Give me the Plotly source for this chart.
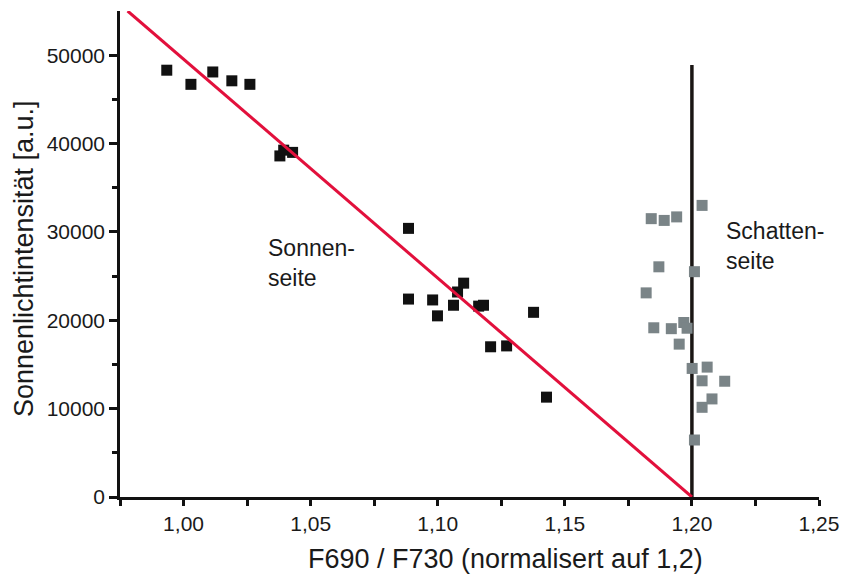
import plotly.graph_objects as go

# Sonnenseite (black squares)
sun_x = [0.9934, 1.0029, 1.0115, 1.0190, 1.0261, 1.0379, 1.0394, 1.0429,
         1.0885, 1.0885, 1.0980, 1.0999, 1.1062, 1.1078, 1.1102, 1.1161,
         1.1180, 1.1377, 1.1208, 1.1271, 1.1428]
sun_y = [48300, 46700, 48100, 47100, 46700, 38600, 39250, 39000,
         30400, 22400, 22300, 20500, 21700, 23200, 24200, 21600,
         21700, 20900, 17000, 17100, 11300]

# Schattenseite (grey squares)
shade_x = [1.1840, 1.1891, 1.1940, 1.2040, 1.1870, 1.2010, 1.1820, 1.1850,
           1.1919, 1.1968, 1.1981, 1.1950, 1.2001, 1.2060, 1.2040, 1.2129,
           1.2079, 1.2040, 1.2010]
shade_y = [31500, 31300, 31700, 33000, 26050, 25500, 23100, 19150,
           19050, 19750, 19100, 17300, 14550, 14700, 13150, 13100,
           11100, 10150, 6450]

# Regression line (red) and divider line (black)
fit_x = [0.978, 1.20]
fit_y = [55000, 0]
div_x = [1.20, 1.20]
div_y = [0, 48900]

x_ticks = [1.00, 1.05, 1.10, 1.15, 1.20, 1.25]
x_ticktext = ["1,00", "1,05", "1,10", "1,15", "1,20", "1,25"]
y_ticks = [0, 10000, 20000, 30000, 40000, 50000]
y_ticktext = ["0", "10000", "20000", "30000", "40000", "50000"]

x_title = "F690 / F730 (normalisert auf 1,2)"
y_title = "Sonnenlichtintensität [a.u.]"

FONT = "Liberation Sans, Arial, sans-serif"

fig = go.Figure()
fig.add_trace(go.Scatter(x=div_x, y=div_y, mode="lines",
                         line=dict(color="#1a1614", width=3.5),
                         showlegend=False, hoverinfo="skip", cliponaxis=False))
fig.add_trace(go.Scatter(x=sun_x, y=sun_y, mode="markers",
                         marker=dict(symbol="square", size=11, color="#111111",
                                     line=dict(width=0)),
                         showlegend=False))
fig.add_trace(go.Scatter(x=shade_x, y=shade_y, mode="markers",
                         marker=dict(symbol="square", size=11, color="#7a8487",
                                     line=dict(width=0)),
                         showlegend=False))
fig.add_trace(go.Scatter(x=fit_x, y=fit_y, mode="lines",
                         line=dict(color="#e2103c", width=3),
                         showlegend=False, hoverinfo="skip", cliponaxis=False))

fig.add_annotation(x=1.0325, y=26500, xref="x", yref="y",
                   text="Sonnen-<br>seite", showarrow=False, align="left",
                   xanchor="left", yanchor="middle",
                   font=dict(family=FONT, size=23, color="#1a1a1a"))
fig.add_annotation(x=1.2125, y=28400, xref="x", yref="y",
                   text="Schatten-<br>seite", showarrow=False, align="left",
                   xanchor="left", yanchor="middle",
                   font=dict(family=FONT, size=23, color="#1a1a1a"))

# axis titles placed as annotations (paper coords)
fig.add_annotation(x=0.551, y=-0.128, xref="paper", yref="paper",
                   text=x_title, showarrow=False, xanchor="center", yanchor="middle",
                   font=dict(family=FONT, size=27, color="#1a1a1a"))
fig.add_annotation(x=-0.137, y=0.49, xref="paper", yref="paper",
                   text=y_title, showarrow=False, textangle=-90,
                   xanchor="center", yanchor="middle",
                   font=dict(family=FONT, size=27, color="#1a1a1a"))

fig.update_layout(
    width=845, height=579,
    margin=dict(l=120, r=26, t=11, b=82, autoexpand=False),
    paper_bgcolor="white", plot_bgcolor="white",
    font=dict(family=FONT, color="#1a1a1a"),
    showlegend=False,
)
fig.update_xaxes(
    range=[0.975, 1.25], showgrid=False, zeroline=False, automargin=False,
    showline=True, linecolor="#111111", linewidth=2.5,
    tickmode="array", tickvals=x_ticks, ticktext=x_ticktext,
    ticks="outside", ticklen=6, tickwidth=2.5, tickcolor="#111111",
    minor=dict(tickmode="array", tickvals=[0.975, 1.025, 1.075, 1.125, 1.175, 1.225],
               ticks="outside", ticklen=6, tickwidth=2.5, tickcolor="#111111"),
    tickfont=dict(family=FONT, size=21, color="#1a1a1a"),
)
fig.update_yaxes(
    range=[0, 55000], showgrid=False, zeroline=False, automargin=False,
    showline=True, linecolor="#111111", linewidth=2.5,
    tickmode="array", tickvals=y_ticks, ticktext=y_ticktext,
    ticks="outside", ticklen=8, tickwidth=2.5, tickcolor="#111111",
    minor=dict(tickmode="array", tickvals=[5000, 15000, 25000, 35000, 45000],
               ticks="outside", ticklen=5, tickwidth=2.5, tickcolor="#111111"),
    tickfont=dict(family=FONT, size=21, color="#1a1a1a"),
)

fig.write_html("out.html")
